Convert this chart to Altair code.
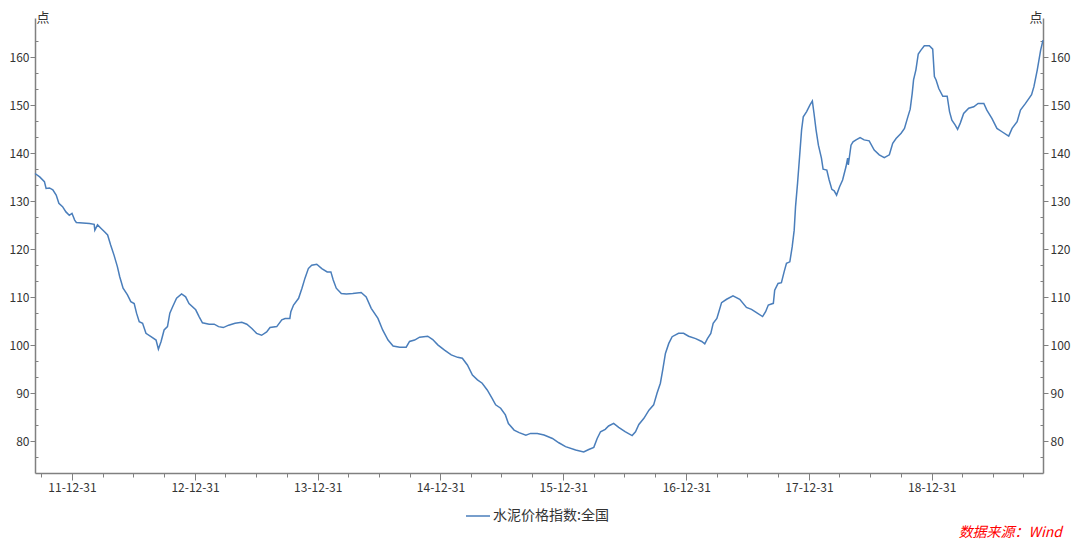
import altair as alt
import pandas as pd

series_name = "水泥价格指数:全国"
unit_label = "点"
source_text = "数据来源：Wind"

dates = [
    "2011-09-12", "2011-09-26", "2011-10-10", "2011-10-15", "2011-10-25", "2011-11-04",
    "2011-11-14", "2011-11-22", "2011-12-03", "2011-12-13", "2011-12-23", "2011-12-31",
    "2012-01-08", "2012-01-13", "2012-02-01", "2012-02-21", "2012-03-06", "2012-03-08",
    "2012-03-16", "2012-03-26", "2012-04-05", "2012-04-15", "2012-04-24", "2012-05-04",
    "2012-05-14", "2012-05-21", "2012-05-31", "2012-06-13", "2012-06-23", "2012-07-03",
    "2012-07-10", "2012-07-18", "2012-07-28", "2012-08-07", "2012-08-22", "2012-09-06",
    "2012-09-13", "2012-09-21", "2012-09-30", "2012-10-10", "2012-10-17", "2012-10-25",
    "2012-11-06", "2012-11-21", "2012-12-03", "2012-12-13", "2013-01-02", "2013-01-12",
    "2013-01-22", "2013-02-11", "2013-02-26", "2013-03-11", "2013-03-25", "2013-04-10",
    "2013-04-29", "2013-05-19", "2013-06-03", "2013-06-18", "2013-07-02", "2013-07-17",
    "2013-08-01", "2013-08-11", "2013-08-31", "2013-09-15", "2013-09-25", "2013-10-09",
    "2013-10-12", "2013-10-20", "2013-11-04", "2013-11-14", "2013-11-23", "2013-12-03",
    "2013-12-13", "2013-12-28", "2014-01-12", "2014-01-28", "2014-02-08", "2014-02-15",
    "2014-02-24", "2014-03-11", "2014-03-26", "2014-04-14", "2014-05-09", "2014-05-24",
    "2014-06-08", "2014-06-28", "2014-07-12", "2014-07-28", "2014-08-12", "2014-09-01",
    "2014-09-20", "2014-09-30", "2014-10-15", "2014-10-30", "2014-11-23", "2014-12-08",
    "2014-12-23", "2015-01-12", "2015-02-01", "2015-02-20", "2015-03-06", "2015-03-21",
    "2015-04-05", "2015-04-20", "2015-05-04", "2015-05-19", "2015-06-03", "2015-06-13",
    "2015-06-28", "2015-07-12", "2015-07-21", "2015-08-07", "2015-08-22", "2015-09-11",
    "2015-09-25", "2015-10-15", "2015-11-04", "2015-11-29", "2015-12-18", "2016-01-07",
    "2016-02-06", "2016-03-01", "2016-03-16", "2016-03-31", "2016-04-10", "2016-04-20",
    "2016-05-04", "2016-05-14", "2016-05-29", "2016-06-13", "2016-07-02", "2016-07-23",
    "2016-08-02", "2016-08-12", "2016-08-27", "2016-09-11", "2016-09-25", "2016-10-05",
    "2016-10-15", "2016-10-22", "2016-10-30", "2016-11-09", "2016-11-19", "2016-12-08",
    "2016-12-23", "2017-01-07", "2017-01-28", "2017-02-15", "2017-02-24", "2017-03-04",
    "2017-03-14", "2017-03-21", "2017-04-01", "2017-04-07", "2017-04-15", "2017-04-30",
    "2017-05-19", "2017-06-08", "2017-06-28", "2017-07-13", "2017-07-28", "2017-08-15",
    "2017-08-24", "2017-09-01", "2017-09-16", "2017-09-20", "2017-09-30", "2017-10-10",
    "2017-10-18", "2017-10-25", "2017-11-04", "2017-11-11", "2017-11-17", "2017-11-21",
    "2017-11-27", "2017-12-03", "2017-12-09", "2017-12-14", "2017-12-24", "2018-01-03",
    "2018-01-10", "2018-01-15", "2018-01-21", "2018-01-28", "2018-02-06", "2018-02-11",
    "2018-02-22", "2018-03-01", "2018-03-09", "2018-03-16", "2018-03-23", "2018-04-01",
    "2018-04-10", "2018-04-20", "2018-04-25", "2018-04-27", "2018-05-05", "2018-05-11",
    "2018-05-20", "2018-06-01", "2018-06-13", "2018-06-28", "2018-07-13", "2018-07-28",
    "2018-08-12", "2018-08-27", "2018-09-06", "2018-09-16", "2018-10-01", "2018-10-11",
    "2018-10-21", "2018-10-28", "2018-11-03", "2018-11-07", "2018-11-14", "2018-11-21",
    "2018-11-29", "2018-12-09", "2018-12-24", "2019-01-03", "2019-01-08", "2019-01-13",
    "2019-01-21", "2019-02-02", "2019-02-15", "2019-02-22", "2019-03-01", "2019-03-11",
    "2019-03-18", "2019-03-26", "2019-04-05", "2019-04-20", "2019-05-05", "2019-05-18",
    "2019-06-04", "2019-06-13", "2019-06-28", "2019-07-13", "2019-07-28", "2019-08-17",
    "2019-08-27", "2019-09-11", "2019-09-21", "2019-10-06", "2019-10-24", "2019-10-31",
    "2019-11-10", "2019-11-20", "2019-11-27",
]

values = [
    135.8, 135.1, 134.1, 132.7, 132.8, 132.4,
    131.3, 129.6, 128.9, 127.8, 127.1, 127.5,
    126.1, 125.6, 125.5, 125.4, 125.2, 124.0,
    125.1, 124.4, 123.7, 123.0, 120.9, 118.8,
    116.4, 114.3, 111.9, 110.5, 109.1, 108.7,
    106.7, 104.9, 104.6, 102.5, 101.8, 101.1,
    99.2, 100.8, 103.2, 103.9, 106.7, 108.0,
    109.8, 110.7, 110.1, 108.7, 107.4, 106.0,
    104.7, 104.4, 104.4, 103.9, 103.7, 104.2,
    104.6, 104.8, 104.4, 103.5, 102.5, 102.1,
    102.8, 103.7, 103.9, 105.3, 105.6, 105.6,
    107.0, 108.4, 109.8, 111.9, 114.0, 116.0,
    116.7, 116.9, 116.0, 115.3, 115.3, 113.6,
    111.9, 110.8, 110.7, 110.8, 111.0, 110.1,
    107.7, 105.6, 103.2, 101.1, 99.85, 99.6,
    99.6, 100.8, 101.1, 101.7, 101.9, 101.2,
    100.1, 99.0, 98.0, 97.5, 97.3, 95.9,
    93.8, 92.8, 92.1, 90.7, 88.9, 87.6,
    86.9, 85.5, 83.7, 82.35, 81.8, 81.3,
    81.65, 81.65, 81.3, 80.6, 79.7, 78.9,
    78.2, 77.8, 78.3, 78.75, 80.6, 82.0,
    82.5, 83.2, 83.75, 82.9, 82.0, 81.2,
    82.0, 83.5, 84.8, 86.5, 87.6, 90.0,
    92.1, 94.9, 98.3, 100.4, 101.8, 102.5,
    102.5, 101.9, 101.4, 100.8, 100.3, 101.4,
    102.5, 104.6, 105.6, 107.0, 108.9, 109.6,
    110.3, 109.6, 107.9, 107.5, 106.8, 106.0,
    107.0, 108.4, 108.75, 111.5, 112.9, 113.05,
    115.3, 117.1, 117.4, 120.5, 124.0, 128.9,
    133.8, 139.3, 144.9, 147.6, 148.7, 150.1,
    150.9, 148.3, 144.9, 141.7, 139.0, 136.7,
    136.5, 134.45, 132.5, 132.2, 131.3, 133.05,
    134.45, 137.2, 139.0, 137.6, 141.7, 142.4,
    142.8, 143.3, 142.8, 142.6, 140.7, 139.7,
    139.1, 139.7, 142.1, 143.1, 144.2, 145.2,
    147.6, 149.2, 152.5, 155.3, 157.4, 160.7,
    161.5, 162.4, 162.4, 161.7, 156.0, 155.3,
    153.5, 151.9, 151.9, 148.7, 146.9, 145.9,
    145.0, 146.3, 148.3, 149.4, 149.7, 150.4,
    150.4, 149.0, 147.3, 145.2, 144.5, 143.6,
    145.2, 146.6, 149.0, 150.4, 152.2, 153.9,
    157.4, 161.5, 163.6,
]

label_years = [2011, 2012, 2013, 2014, 2015, 2016, 2017, 2018]
minor_quarters = [(3, 31), (6, 30), (9, 30)]
y_major = [80, 90, 100, 110, 120, 130, 140, 150, 160]
y_minor = [76.67, 83.33, 86.67, 93.33, 96.67, 103.33, 106.67, 113.33, 116.67,
           123.33, 126.67, 133.33, 136.67, 143.33, 146.67, 153.33, 156.67, 163.33]
y_domain = [73.4, 168.2]

FONT = "Noto Sans CJK SC"
AXIS_COLOR = "#808080"
LABEL_COLOR = "#333333"
LINE_COLOR = "#4a7ebb"

df = pd.DataFrame({
    "date": pd.to_datetime(dates),
    "value": values,
    "series": [series_name] * len(values),
})

x_major_vals = [alt.DateTime(year=y, month=12, date=31) for y in label_years]
x_minor_vals = [alt.DateTime(year=y, month=m, date=d)
                for y in range(2011, 2020) for (m, d) in minor_quarters
                if not (y == 2011 and m < 9)]

x_scale = alt.Scale(nice=False)
y_scale = alt.Scale(domain=y_domain, nice=False, zero=False)

common_tick = dict(tickColor=AXIS_COLOR, tickWidth=1, grid=False)

x_major_axis = alt.Axis(
    orient="bottom", values=x_major_vals, format="%y-%m-%d", title=None,
    tickSize=7, domainColor=AXIS_COLOR, domainWidth=1.5,
    labelFont=FONT, labelFontSize=12, labelColor=LABEL_COLOR, labelPadding=2,
    labelFlush=False, labelOverlap=False, **common_tick)
x_minor_axis = alt.Axis(
    orient="bottom", values=x_minor_vals, labels=False, domain=False, title=None,
    tickSize=4, **common_tick)


def y_axis(orient, title_x, title_align):
    return alt.Axis(
        orient=orient, values=y_major, tickSize=5, domainColor=AXIS_COLOR, domainWidth=1.5,
        labelFont=FONT, labelFontSize=12, labelColor=LABEL_COLOR,
        labelPadding=1 if orient == "left" else 2,
        title=unit_label, titleAngle=0, titleX=title_x, titleY=6, titleAlign=title_align,
        titleBaseline="bottom", titleFont=FONT, titleFontSize=13, titleFontWeight="normal",
        titleColor=LABEL_COLOR, titlePadding=0, **common_tick)


def y_minor_axis(orient):
    return alt.Axis(orient=orient, values=y_minor, labels=False, domain=False, title=None,
                    tickSize=alt.ExprRef(expr="-3"), **common_tick)


base = alt.Chart(df)

line = base.mark_line(strokeWidth=1.5).encode(
    x=alt.X("date:T", scale=x_scale, axis=x_major_axis),
    y=alt.Y("value:Q", scale=y_scale, axis=y_axis("left", 1, "left")),
    color=alt.Color("series:N", scale=alt.Scale(range=[LINE_COLOR]),
                    legend=alt.Legend(orient="none", legendX=430, legendY=485, title=None,
                                      symbolType="stroke", symbolSize=576,
                                      symbolStrokeWidth=1.5, labelFont=FONT,
                                      labelFontSize=14, labelColor=LABEL_COLOR,
                                      labelOffset=2, padding=0)),
)
right_axes = base.mark_line(opacity=0).encode(
    x=alt.X("date:T", scale=x_scale, axis=x_minor_axis),
    y=alt.Y("value:Q", scale=y_scale, axis=y_axis("right", -1, "right")),
)
left_minor = base.mark_line(opacity=0).encode(
    x=alt.X("date:T", scale=x_scale, axis=None),
    y=alt.Y("value:Q", scale=y_scale, axis=y_minor_axis("left")),
)
right_minor = base.mark_line(opacity=0).encode(
    x=alt.X("date:T", scale=x_scale, axis=None),
    y=alt.Y("value:Q", scale=y_scale, axis=y_minor_axis("right")),
)
source = alt.Chart(pd.DataFrame({"t": [source_text]})).mark_text(
    align="right", baseline="bottom", font=FONT, fontSize=14, fontStyle="italic",
    color="#ff0000").encode(text="t:N", x=alt.value(1027), y=alt.value(522))

chart = alt.layer(line, right_axes, left_minor, right_minor, source).resolve_axis(
    x="independent", y="independent"
).properties(
    width=1008, height=455,
    padding={"left": 27, "top": 10, "right": 29, "bottom": 69},
    autosize=alt.AutoSizeParams(type="none"),
).configure_view(stroke=None)

chart.save("out.html", embed_options={"renderer": "svg", "actions": False})
